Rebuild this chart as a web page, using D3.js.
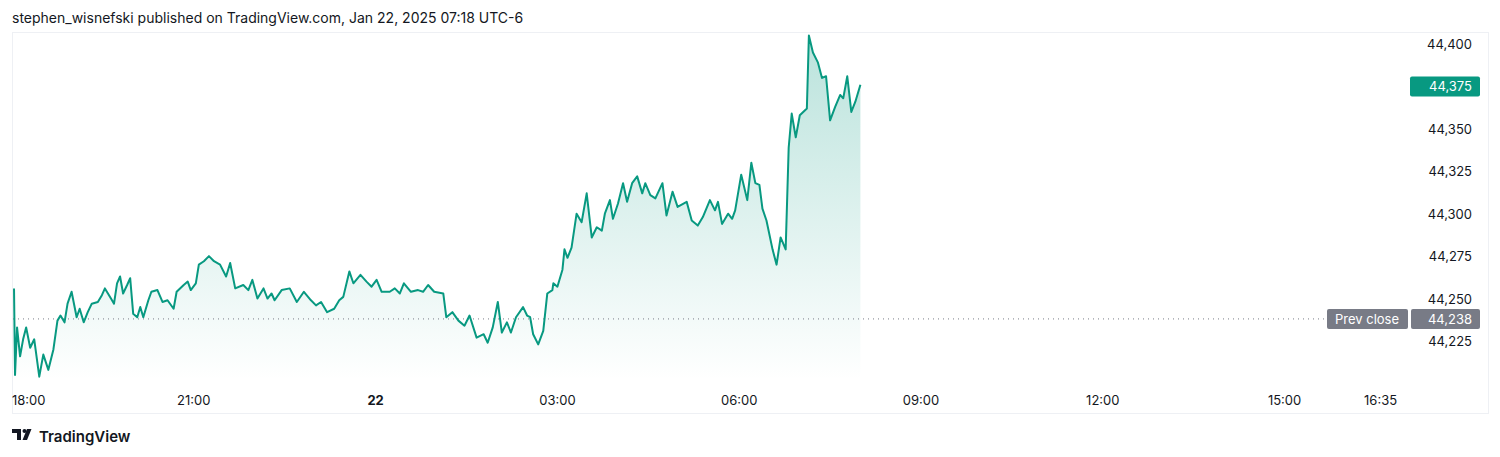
<!DOCTYPE html>
<html><head><meta charset="utf-8">
<script src="https://cdn.jsdelivr.net/npm/d3@7"></script>
<style>body{margin:0;background:#fff;font-family:Inter,"Noto Sans",sans-serif;}</style>
</head><body>
<script>
// minutes after 18:00 (Jan 21) and price
var minutes = [2,3,5,8,11,14,18,22,27,31,36,41,45,48,52,55,59,64,67,71,75,79,85,89,92,98,101,104,107,110,114,117,120,124,127,130,135,138,144,149,154,160,163,170,174,177,182,185,190,195,200,206,212,216,221,229,234,238,243,249,253,257,260,267,275,282,289,296,301,306,312,319,324,328,334,338,345,351,356,361,366,374,379,384,388,395,402,407,412,418,427,430,436,442,448,453,460,467,471,476,481,485,490,494,499,506,510,
  513,516,521,526,530,535,536,540,545,547,550,554,559,564,569,574,579,584,587,592,595,600,605,609,614,619,624,627,632,637,644,648,654,659,668,673,679,684,691,696,699,703,709,713,716,722,728,732,736,740,743,747,753,757,761,766,769,772,776,780,787,789,793,798,802,806,810,815,820,823,827,831,835,840];
var prices = [44256,44205,44233,44216,44226,44233,44221,44226,44204,44217,44208,44220,44237,44240,44236,44247,44254,44239,44244,44236,44242,44247,44248,44252,44256,44250,44247,44259,44263,44253,44258,44262,44241,44239,44245,44239,44249,44254,44255,44248,44249,44244,44254,44258,44260,44255,44259,44270,44272,44275,44272,44270,44263,44271,44256,44258,44255,44261,44250,44256,44250,44253,44249,44255,44256,44248,44254,44249,44246,44248,44242,44244,44249,44251,44266,44259,44264,44260,44257,44261,44254,44254,44256,44253,44259,44254,44255,44254,44258,44254,44253,44239,44242,44237,44234,44240,44227,44229,44224,44233,44248,44230,44236,44230,44239,44245,44240,
  44239,44229,44223,44231,44253,44255,44259,44257,44267,44279,44274,44280,44300,44295,44312,44286,44292,44290,44300,44308,44297,44306,44318,44307,44318,44322,44312,44318,44311,44309,44318,44299,44313,44304,44307,44296,44293,44298,44308,44302,44307,44294,44300,44297,44302,44323,44308,44330,44318,44317,44303,44296,44279,44270,44286,44279,44339,44359,44345,44358,44362,44405,44395,44389,44380,44381,44355,44363,44370,44368,44381,44360,44366,44376];
var yTicks = [44225,44250,44275,44300,44325,44350,44375,44400];
var xTickHours = [0,3,6,9,12,15,22.5833];
var xTickLabels = ["18:00","21:00","22","03:00","06:00","09:00","12:00","15:00","16:35"];
var lastPrice = 44375, prevClose = 44238;

var W = 1500, H = 457;
var green = "#089981";
var svg = d3.select("body").append("svg").attr("width", W).attr("height", H);

var x = d3.scaleLinear().domain([0, 60]).range([12, 72.6]); // minutes -> px
var y = d3.scaleLinear().domain([44225, 44400]).range([341, 44]);

// pane border
svg.append("rect").attr("x", 12.5).attr("y", 32.5).attr("width", 1476).attr("height", 381)
  .attr("fill", "none").attr("stroke", "#eef0f4");

svg.append("text").attr("x", 12).attr("y", 23).attr("font-size", 14).attr("fill", "#131722")
  .text("stephen_wisnefski published on TradingView.com, Jan 22, 2025 07:18 UTC-6");

var data = minutes.map(function(m, i) { return {m: m, v: prices[i]}; });

var grad = svg.append("defs").append("linearGradient").attr("id", "g")
  .attr("x1", 0).attr("y1", 0).attr("x2", 0).attr("y2", 1);
grad.append("stop").attr("offset", "0%").attr("stop-color", green).attr("stop-opacity", 0.28);
grad.append("stop").attr("offset", "100%").attr("stop-color", green).attr("stop-opacity", 0.0);

var bottom = 380;
var area = d3.area().x(function(d) { return x(d.m); }).y0(bottom).y1(function(d) { return y(d.v); });
svg.append("path").datum(data).attr("d", area).attr("fill", "url(#g)");

// prev close dotted line
svg.append("line").attr("x1", 13).attr("x2", 1326).attr("y1", y(prevClose)).attr("y2", y(prevClose))
  .attr("stroke", "#787b86").attr("stroke-dasharray", "1,4").attr("stroke-width", 1);

var line = d3.line().x(function(d) { return x(d.m); }).y(function(d) { return y(d.v); });
svg.append("path").datum(data).attr("d", line).attr("fill", "none")
  .attr("stroke", green).attr("stroke-width", 2).attr("stroke-linejoin", "round");

// y axis labels
svg.selectAll(".yt").data(yTicks).enter().append("text")
  .attr("x", 1472).attr("y", function(d) { return y(d) + 5; })
  .attr("text-anchor", "end").attr("font-size", 13).attr("fill", "#131722")
  .text(function(d) { return d3.format(",")(d); });

// last price badge
svg.append("rect").attr("x", 1410).attr("y", y(lastPrice) - 10).attr("width", 70).attr("height", 20)
  .attr("rx", 2).attr("fill", green);
svg.append("text").attr("x", 1472).attr("y", y(lastPrice) + 5).attr("text-anchor", "end")
  .attr("font-size", 13).attr("fill", "#fff").text(d3.format(",")(lastPrice));

// prev close badges
var pc = y(prevClose);
svg.append("rect").attr("x", 1327).attr("y", pc - 10).attr("width", 81).attr("height", 20).attr("rx", 2).attr("fill", "#787b86");
svg.append("text").attr("x", 1367).attr("y", pc + 5).attr("text-anchor", "middle").attr("font-size", 13).attr("fill", "#fff").text("Prev close");
svg.append("rect").attr("x", 1411).attr("y", pc - 10).attr("width", 69).attr("height", 20).attr("rx", 2).attr("fill", "#787b86");
svg.append("text").attr("x", 1472).attr("y", pc + 5).attr("text-anchor", "end").attr("font-size", 13).attr("fill", "#fff").text(d3.format(",")(prevClose));

// x axis labels
var xh = [0,3,6,9,12,15,18,21,22.5833];
svg.selectAll(".xt").data(xh).enter().append("text")
  .attr("x", function(d, i) { return i == 0 ? 12 : x(d * 60); })
  .attr("y", 405).attr("text-anchor", function(d, i) { return i == 0 ? "start" : "middle"; })
  .attr("font-size", 13).attr("fill", "#131722")
  .attr("font-weight", function(d, i) { return xTickLabels[i] == "22" ? "bold" : "normal"; })
  .text(function(d, i) { return xTickLabels[i]; });

// logo
var logo = svg.append("g").attr("transform", "translate(12,429)");
logo.append("path").attr("d", "M0 0H9V11H5V4H0Z").attr("fill", "#131722");
logo.append("circle").attr("cx", 12.5).attr("cy", 2).attr("r", 2).attr("fill", "#131722");
logo.append("path").attr("d", "M15 0H19.5L15 11H10.5Z").attr("fill", "#131722");
svg.append("text").attr("x", 39).attr("y", 442).attr("font-size", 15).attr("font-weight", 600)
  .attr("fill", "#131722").text("TradingView");
</script>
</body></html>
